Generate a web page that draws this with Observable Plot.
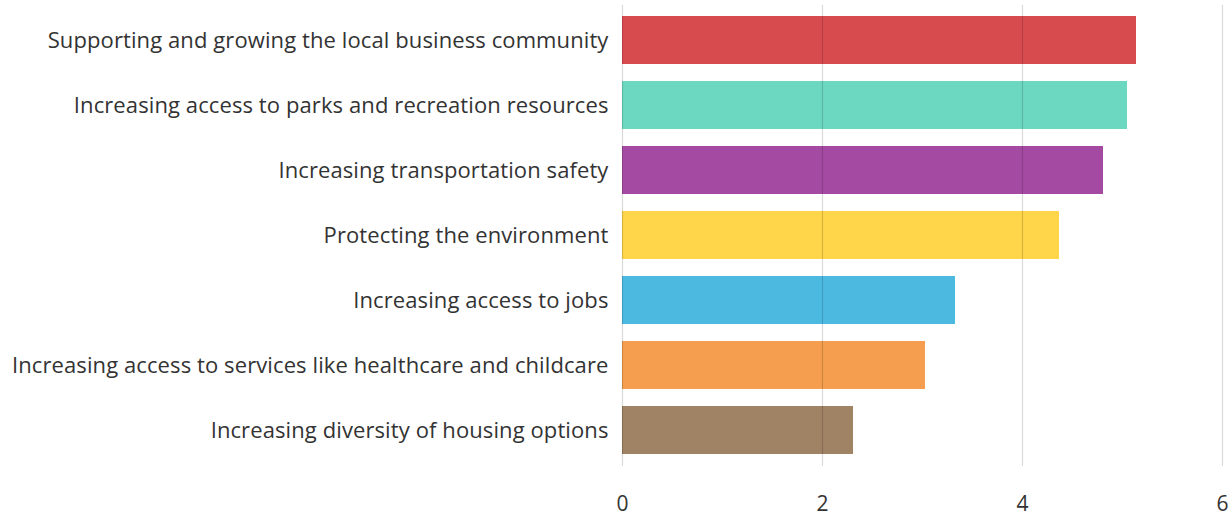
<!DOCTYPE html>
<html>
<head>
<meta charset="utf-8">
<script src="https://cdn.jsdelivr.net/npm/d3@7"></script>
<script src="https://cdn.jsdelivr.net/npm/@observablehq/plot@0.6"></script>
<style>
  html, body { margin: 0; padding: 0; background: #fff; }
  #chart svg { display: block; }
  #chart svg text { letter-spacing: 0.1px; }
</style>
</head>
<body>
<div id="chart"></div>
<script>
const categories = [
  "Supporting and growing the local business community",
  "Increasing access to parks and recreation resources",
  "Increasing transportation safety",
  "Protecting the environment",
  "Increasing access to jobs",
  "Increasing access to services like healthcare and childcare",
  "Increasing diversity of housing options"
];
const values = [5.14, 5.05, 4.81, 4.37, 3.33, 3.03, 2.31];
const xTicks = [0, 2, 4, 6];

const data = categories.map((c, i) => ({category: c, value: values[i]}));

const palette = ["#d74b4f", "#6dd8c1", "#a44aa2", "#ffd54a", "#4cb9e1", "#f59e4f", "#a08265"];

const chart = Plot.plot({
  width: 1232,
  height: 516,
  marginLeft: 622,
  marginRight: 10,
  marginTop: 5,
  marginBottom: 50,
  style: {fontFamily: "'Open Sans', sans-serif", fontSize: "22px", color: "#333", background: "#fff"},
  x: {domain: [0, 6], ticks: xTicks},
  y: {domain: categories, paddingInner: 0.26, paddingOuter: 0.15},
  color: {domain: categories, range: palette},
  marks: [
    Plot.barX(data, {x: "value", y: "category", fill: "category"}),
    Plot.ruleX(xTicks, {stroke: "#000", strokeOpacity: 0.15, strokeWidth: 1.2}),
    Plot.axisX({ticks: xTicks, tickFormat: d3.format("d"), tickSize: 0, tickPadding: 30, fontSize: 21, fill: "#333", label: null}),
    Plot.axisY({tickSize: 0, tickPadding: 14, fontSize: 22, fill: "#333", label: null})
  ]
});
document.getElementById("chart").appendChild(chart);
</script>
</body>
</html>
